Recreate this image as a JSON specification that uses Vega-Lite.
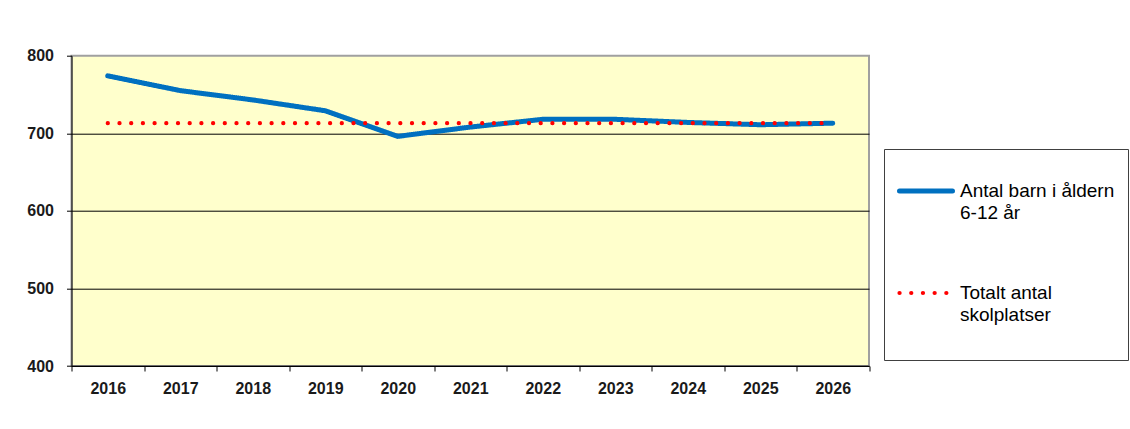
{
  "$schema": "https://vega.github.io/schema/vega-lite/v6.json",
  "autosize": "none",
  "width": 797.5,
  "height": 310.3,
  "padding": {"left": 71.5, "top": 55.7, "right": 261, "bottom": 63},
  "background": "white",
  "config": {
    "view": {"fill": "#FFFFCC", "stroke": "#A0A0A0", "strokeWidth": 2},
    "axis": {"labelFont": "Liberation Sans", "labelFontSize": 16, "labelFontWeight": "bold", "labelColor": "#1a1a1a", "domainColor": "#000000", "tickColor": "#000000", "tickSize": 5, "title": null}
  },
  "data": {
    "values": [
      {"year": "2016", "series": "barn", "value": 774},
      {"year": "2017", "series": "barn", "value": 755},
      {"year": "2018", "series": "barn", "value": 743},
      {"year": "2019", "series": "barn", "value": 729},
      {"year": "2020", "series": "barn", "value": 696},
      {"year": "2021", "series": "barn", "value": 708},
      {"year": "2022", "series": "barn", "value": 718},
      {"year": "2023", "series": "barn", "value": 718},
      {"year": "2024", "series": "barn", "value": 714},
      {"year": "2025", "series": "barn", "value": 711},
      {"year": "2026", "series": "barn", "value": 713},
      {"year": "2016", "series": "platser", "value": 713},
      {"year": "2017", "series": "platser", "value": 713},
      {"year": "2018", "series": "platser", "value": 713},
      {"year": "2019", "series": "platser", "value": 713},
      {"year": "2020", "series": "platser", "value": 713},
      {"year": "2021", "series": "platser", "value": 713},
      {"year": "2022", "series": "platser", "value": 713},
      {"year": "2023", "series": "platser", "value": 713},
      {"year": "2024", "series": "platser", "value": 713},
      {"year": "2025", "series": "platser", "value": 713},
      {"year": "2026", "series": "platser", "value": 713}
    ]
  },
  "encoding": {
    "x": {
      "field": "year", "type": "ordinal",
      "scale": {"type": "band", "paddingInner": 0, "paddingOuter": 0},
      "axis": {"labelAngle": 0, "tickBand": "extent", "labelPadding": 9, "domainWidth": 1}
    },
    "y": {
      "field": "value", "type": "quantitative",
      "scale": {"domain": [400, 800], "nice": false, "zero": false},
      "axis": {"values": [400, 500, 600, 700, 800], "labelPadding": 13, "grid": true,
               "gridColor": {"condition": {"test": "datum.value == 800", "value": "transparent"}, "value": "#000000"},
               "gridWidth": 1}
    },
    "color": {
      "field": "series", "type": "nominal",
      "scale": {"domain": ["barn", "platser"], "range": ["#0070C0", "#FF0000"]},
      "legend": {
        "orient": "none", "legendX": 812.5, "legendY": 93.3,
        "title": null, "padding": 13,
        "fillColor": "#FFFFFF", "strokeColor": "#404040",
        "symbolType": "stroke", "symbolSize": 2809,
        "labelFont": "Liberation Sans", "labelFontSize": 19, "labelColor": "#000000",
        "labelOffset": 5, "labelBaseline": "middle", "rowPadding": 41, "labelLimit": 400,
        "labelExpr": "datum.value == 'barn' ? ['Antal barn i åldern', '6-12 år'] : ['Totalt antal', 'skolplatser', '']",
        "encode": {
          "symbols": {"update": {"strokeCap": {"value": "round"}}},
          "labels": {"update": {"lineHeight": {"value": 22}}}
        }
      }
    },
    "strokeDash": {
      "field": "series", "type": "nominal",
      "scale": {"domain": ["barn", "platser"], "range": [[1, 0], [0.1, 11.6]]},
      "legend": null
    },
    "strokeWidth": {
      "field": "series", "type": "nominal",
      "scale": {"domain": ["barn", "platser"], "range": [5, 4.2]},
      "legend": null
    }
  },
  "layer": [
    {"transform": [{"filter": "datum.series == 'barn'"}], "mark": {"type": "line", "strokeCap": "round", "strokeJoin": "round"}},
    {"transform": [{"filter": "datum.series == 'platser'"}], "mark": {"type": "line", "strokeCap": "round"}}
  ]
}
